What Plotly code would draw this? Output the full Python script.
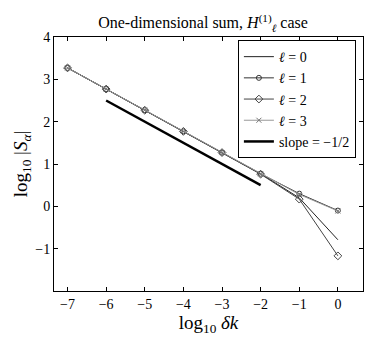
import plotly.graph_objects as go

# log10 of delta k
log_dk = [-7, -6, -5, -4, -3, -2, -1, 0]

# log10 |S_alpha| for each ell
s_l0 = [3.27, 2.77, 2.27, 1.77, 1.27, 0.77, 0.20, -0.79]
s_l1 = [3.27, 2.77, 2.27, 1.77, 1.27, 0.77, 0.30, -0.10]
s_l2 = [3.27, 2.77, 2.27, 1.77, 1.27, 0.76, 0.17, -1.17]
s_l3 = [3.27, 2.77, 2.27, 1.77, 1.27, 0.77, 0.28, -0.11]

# reference slope -1/2
slope_x = [-6, -2]
slope_y = [2.5, 0.5]

SERIF = '"Liberation Serif", "DejaVu Serif", "Times New Roman", serif'

fig = go.Figure()
fig.add_trace(go.Scatter(x=log_dk, y=s_l0, mode="lines", name="<i>ℓ</i> = 0",
                         line=dict(color="#222222", width=1)))
fig.add_trace(go.Scatter(x=log_dk, y=s_l1, mode="lines+markers", name="<i>ℓ</i> = 1",
                         line=dict(color="#333333", width=1),
                         marker=dict(symbol="circle-open", size=5, color="#333333")))
fig.add_trace(go.Scatter(x=log_dk, y=s_l2, mode="lines+markers", name="<i>ℓ</i> = 2",
                         line=dict(color="#444444", width=1),
                         marker=dict(symbol="diamond-open", size=6, color="#444444")))
fig.add_trace(go.Scatter(x=log_dk, y=s_l3, mode="lines+markers", name="<i>ℓ</i> = 3",
                         line=dict(color="#999999", width=1),
                         marker=dict(symbol="x-thin-open", size=5, color="#777777",
                                     line=dict(width=1, color="#777777"))))
fig.add_trace(go.Scatter(x=slope_x, y=slope_y, mode="lines", name="slope = −1/2",
                         line=dict(color="black", width=2.5)))

axis_common = dict(showgrid=False, zeroline=False, showline=True, linecolor="black",
                   linewidth=1, mirror="ticks", ticks="inside", ticklen=4,
                   tickcolor="black", tickfont=dict(family=SERIF, size=14, color="black"))

# the page body has an 8px margin, so the figure is a little smaller than the window
fig.update_layout(
    width=368, height=332,
    margin=dict(l=44, r=13, t=29, b=49),
    plot_bgcolor="white", paper_bgcolor="white",
    font=dict(family=SERIF, color="black"),
    title=dict(text="One-dimensional sum, <i>H</i><sup>(1)</sup><sub><i>ℓ</i></sub> case",
               x=0.53, xanchor="center", y=0.972, yanchor="top",
               font=dict(family=SERIF, size=16)),
    xaxis=dict(range=[-7.35, 0.65], tickvals=log_dk,
               ticktext=["−7", "−6", "−5", "−4", "−3", "−2", "−1", "0"],
               title=dict(text="log<sub>10</sub> <i>δk</i>", font=dict(family=SERIF, size=19),
                          standoff=2),
               **axis_common),
    yaxis=dict(range=[-2, 4], tickvals=[-1, 0, 1, 2, 3, 4],
               ticktext=["−1", "0", "1", "2", "3", "4"],
               title=dict(text="log<sub>10</sub> |<i>S<sub>α</sub></i>|", font=dict(family=SERIF, size=19),
                          standoff=2),
               **axis_common),
    legend=dict(x=0.977, xanchor="right", y=0.988, yanchor="top",
                bgcolor="white", bordercolor="black", borderwidth=1,
                font=dict(family=SERIF, size=14), tracegroupgap=0,
                itemwidth=30),
    showlegend=True,
)

fig.write_html("out.html")
